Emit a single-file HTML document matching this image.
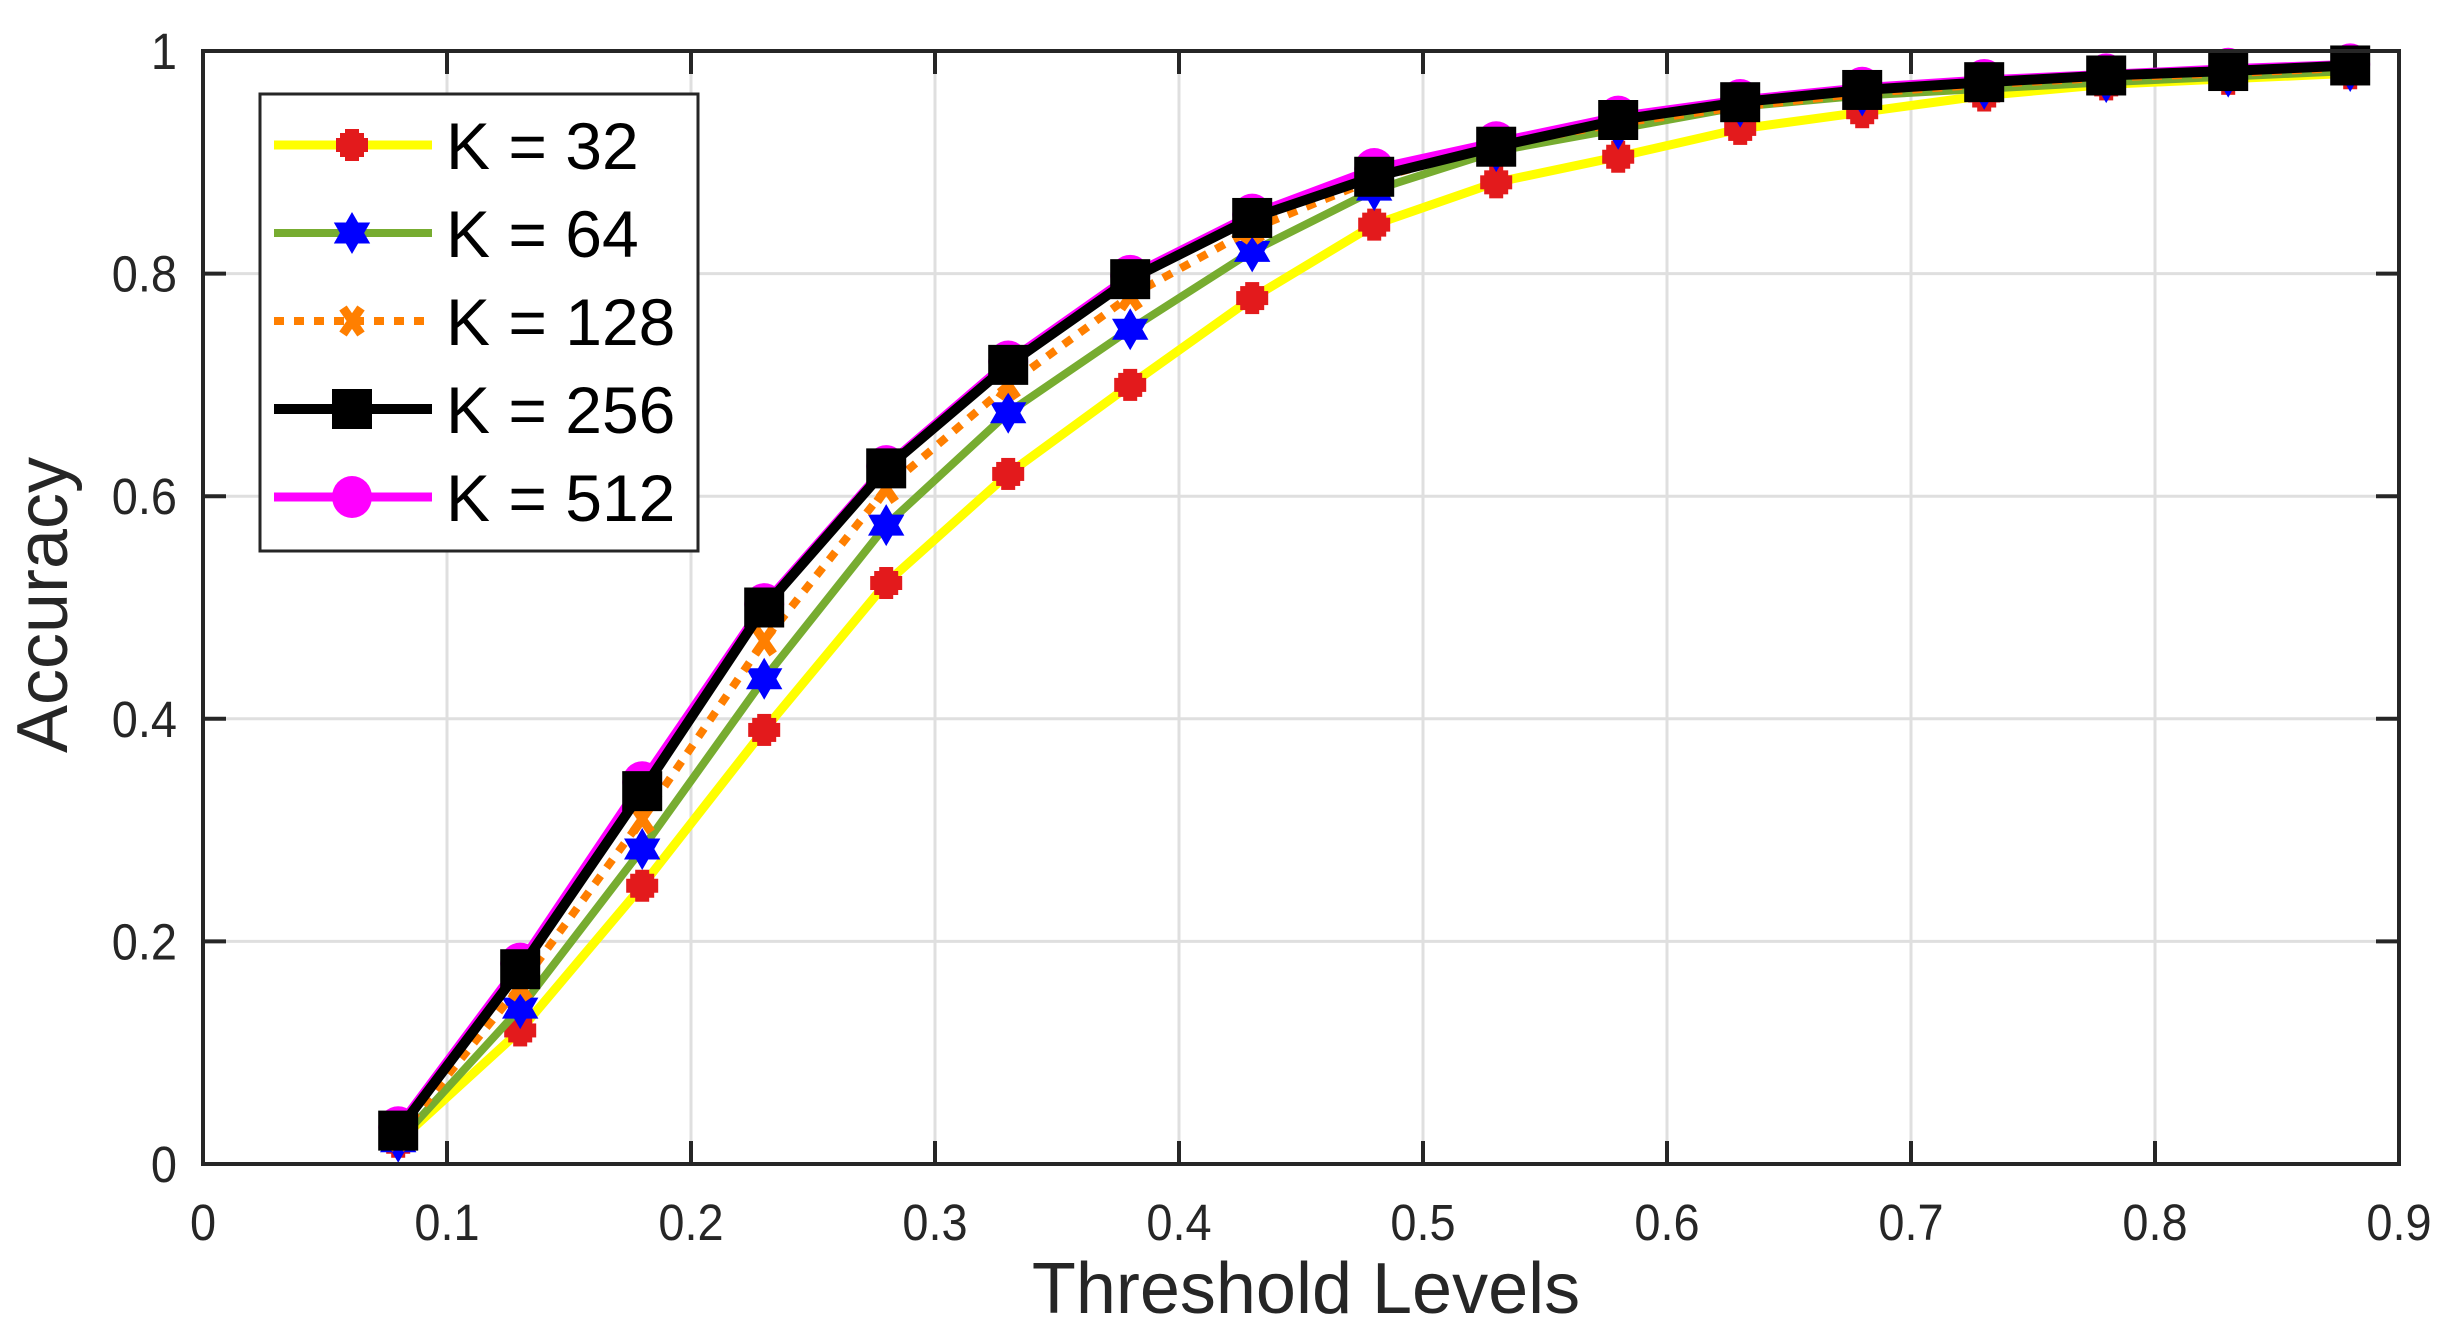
<!DOCTYPE html>
<html><head><meta charset="utf-8"><style>
html,body{margin:0;padding:0;background:#fff;}
svg{display:block;font-family:"Liberation Sans",sans-serif;}
</style></head><body>
<svg id="s" width="2461" height="1331" viewBox="0 0 2461 1331" xmlns="http://www.w3.org/2000/svg"></svg>
<script>
const s=document.getElementById('s');
const L=203,R=2399,T=51,B=1164;
const X=v=>L+v*(R-L)/0.9, Y=a=>B-a*(B-T);
let h='<rect width="2461" height="1331" fill="#fff"/>';
for(let i=1;i<9;i++){h+=`<line x1="${X(i/10)}" y1="${T}" x2="${X(i/10)}" y2="${B}" stroke="#dfdfdf" stroke-width="3"/>`;}
for(let i=1;i<5;i++){h+=`<line x1="${L}" y1="${Y(i/5)}" x2="${R}" y2="${Y(i/5)}" stroke="#dfdfdf" stroke-width="3"/>`;}
for(let i=1;i<9;i++){const x=X(i/10);h+=`<line x1="${x}" y1="${B}" x2="${x}" y2="${B-23}" stroke="#262626" stroke-width="4"/><line x1="${x}" y1="${T}" x2="${x}" y2="${T+23}" stroke="#262626" stroke-width="4"/>`;}
for(let i=1;i<5;i++){const y=Y(i/5);h+=`<line x1="${L}" y1="${y}" x2="${L+23}" y2="${y}" stroke="#262626" stroke-width="4"/><line x1="${R}" y1="${y}" x2="${R-23}" y2="${y}" stroke="#262626" stroke-width="4"/>`;}
const xl=['0','0.1','0.2','0.3','0.4','0.5','0.6','0.7','0.8','0.9'];
xl.forEach((t,i)=>{h+=`<text transform="translate(${X(i/10)},1240) scale(0.92,1)" text-anchor="middle" font-size="51" fill="#262626">${t}</text>`;});
const yl=['0','0.2','0.4','0.6','0.8','1'];
yl.forEach((t,i)=>{h+=`<text transform="translate(177,${Y(i/5)+18}) scale(0.92,1)" text-anchor="end" font-size="51" fill="#262626">${t}</text>`;});
h+=`<text x="1306" y="1313" text-anchor="middle" font-size="72" fill="#262626">Threshold Levels</text>`;
h+=`<text transform="translate(67,605) rotate(-90)" text-anchor="middle" font-size="72" fill="#262626">Accuracy</text>`;
const xs=[];for(let i=0;i<17;i++)xs.push(0.08+0.05*i);
const D={
k32:[0.02,0.12,0.25,0.39,0.522,0.62,0.70,0.778,0.844,0.882,0.905,0.93,0.945,0.96,0.97,0.975,0.98],
k64:[0.02,0.14,0.283,0.436,0.574,0.675,0.75,0.82,0.875,0.91,0.93,0.95,0.96,0.966,0.972,0.977,0.982],
k128:[0.025,0.16,0.31,0.47,0.607,0.70,0.78,0.84,0.885,0.915,0.935,0.95,0.962,0.97,0.976,0.98,0.985],
k256:[0.03,0.175,0.335,0.50,0.625,0.718,0.795,0.85,0.887,0.914,0.938,0.954,0.965,0.972,0.978,0.982,0.987],
k512:[0.033,0.18,0.343,0.503,0.627,0.721,0.798,0.853,0.894,0.918,0.941,0.956,0.967,0.974,0.979,0.984,0.988]};
const pts=a=>a.map((v,i)=>`${X(xs[i]).toFixed(1)},${Y(v).toFixed(1)}`).join(' ');
const diamond=(x,y)=>`<rect x="${x-7}" y="${y-16}" width="14" height="32" fill="#e31a1c"/><rect x="${x-16}" y="${y-7}" width="32" height="14" fill="#e31a1c"/><rect x="${x-12}" y="${y-12}" width="24" height="24" fill="#e31a1c"/>`;
const star=(x,y)=>{const r=21;let p1='',p2='';for(let k=0;k<3;k++){const a1=-Math.PI/2+k*2*Math.PI/3,a2=Math.PI/2+k*2*Math.PI/3;p1+=`${x+r*Math.cos(a1)},${y+r*Math.sin(a1)} `;p2+=`${x+r*Math.cos(a2)},${y+r*Math.sin(a2)} `;}return `<polygon points="${p1}" fill="#0000ff"/><polygon points="${p2}" fill="#0000ff"/>`;};
const cross=(x,y)=>`<path d="M${x-9},${y-13}L${x+9},${y+13}M${x+9},${y-13}L${x-9},${y+13}" stroke="#ff7f00" stroke-width="9"/>`;
const sq=(x,y)=>`<rect x="${x-20}" y="${y-20}" width="40" height="40" fill="#000"/>`;
const ci=(x,y)=>`<ellipse cx="${x}" cy="${y}" rx="20" ry="21" fill="#ff00ff"/>`;
function series(a,col,w,mk,dash){let r=`<polyline points="${pts(a)}" fill="none" stroke="${col}" stroke-width="${w}" ${dash?'stroke-dasharray="10 10"':''}/>`;a.forEach((v,i)=>{r+=mk(X(xs[i]),Y(v));});return r;}
h+=series(D.k32,'#ffff00',9,diamond);
h+=series(D.k64,'#77ac30',8,star);
h+=series(D.k128,'#ff7f00',8,cross,true);
h+=series(D.k512,'#ff00ff',9,ci);
h+=series(D.k256,'#000000',10,sq);
h+=`<rect x="${L}" y="${T}" width="${R-L}" height="${B-T}" fill="none" stroke="#262626" stroke-width="4"/>`;
h+=`<rect x="260" y="94" width="438" height="457" fill="#fff" stroke="#262626" stroke-width="3"/>`;
const leg=[['K = 32','#ffff00',9,diamond,false],['K = 64','#77ac30',8,star,false],['K = 128','#ff7f00',8,cross,true],['K = 256','#000',10,sq,false],['K = 512','#ff00ff',9,ci,false]];
leg.forEach((e,i)=>{const y=145+i*88;h+=`<line x1="274" y1="${y}" x2="${e[4]?424:432}" y2="${y}" stroke="${e[1]}" stroke-width="${e[2]}" ${e[4]?'stroke-dasharray="10 10"':''}/>`;h+=e[3](352,y);h+=`<text x="446" y="${y+24}" font-size="66" fill="#000">${e[0]}</text>`;});
s.innerHTML=h;
</script>
</body></html>
